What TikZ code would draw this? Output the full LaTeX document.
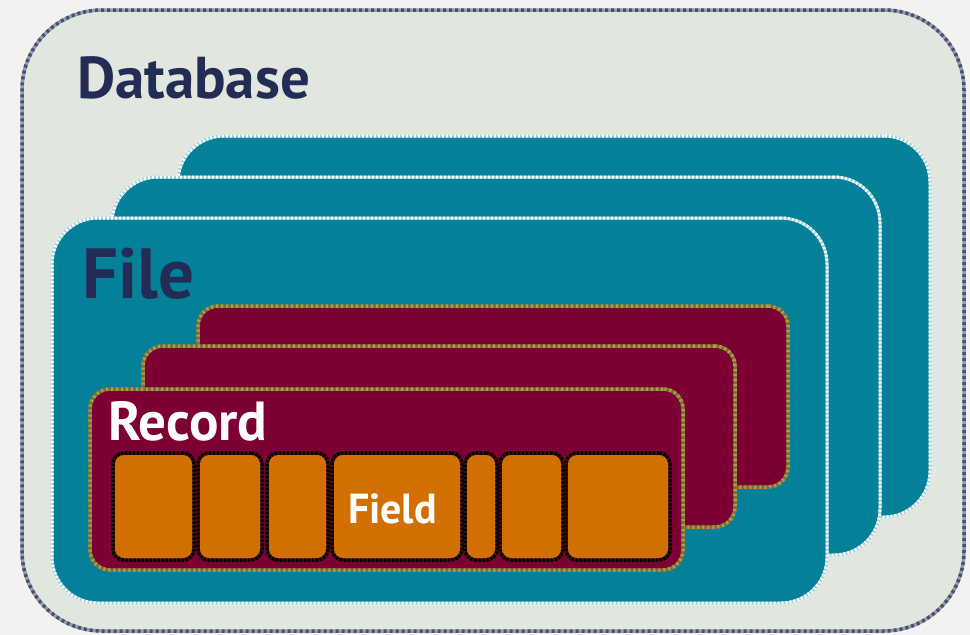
\documentclass[tikz,border=0pt]{standalone}
\usepackage{fontspec}
\setmainfont{PT Sans}
\definecolor{pagebg}{RGB}{242,242,240}
\definecolor{dbfill}{RGB}{225,230,222}
\definecolor{dbline}{RGB}{70,80,112}
\definecolor{dblight}{RGB}{150,156,174}
\definecolor{teal}{RGB}{4,128,153}
\definecolor{tealline}{RGB}{160,212,224}
\definecolor{maroon}{RGB}{124,0,52}
\definecolor{recline}{RGB}{140,104,62}
\definecolor{recdot}{RGB}{156,170,62}
\definecolor{fieldfill}{RGB}{209,112,0}
\definecolor{fieldline}{RGB}{60,14,4}
\definecolor{navy}{RGB}{35,44,85}
\tikzset{
  x=1pt, y=-1pt,
  panel/.style={rectangle, anchor=north west, inner sep=0pt, outer sep=0pt},
  dbbox/.style={panel, fill=dbfill, draw=dblight, line width=3.5pt, rounded corners=80pt,
    postaction={draw=dbline, line width=3.5pt, dash pattern=on 3pt off 3pt, rounded corners=80pt}},
  filebox/.style={panel, fill=teal, draw=tealline, line width=3pt, rounded corners=46pt,
    postaction={draw=white, line width=3pt, dash pattern=on 2pt off 2pt, rounded corners=46pt}},
  recbox/.style={panel, fill=maroon, draw=recline, line width=3.5pt, rounded corners=20pt,
    postaction={draw=recdot, line width=3.5pt, dash pattern=on 2pt off 3pt, rounded corners=20pt}},
  fieldbox/.style={panel, fill=fieldfill, draw=fieldline, line width=3.5pt, rounded corners=11pt,
    postaction={draw=black, line width=3.5pt, dash pattern=on 2pt off 2pt, rounded corners=11pt}},
  label/.style={anchor=base west, inner sep=0pt, outer sep=0pt},
}
% box given by its left, top, right and bottom edges
\newcommand{\boxat}[6]{\node[#1, minimum width={#5-#3}, minimum height={#6-#4}] (#2) at (#3,#4) {};}
\begin{document}
\begin{tikzpicture}
\fill[pagebg] (0,0) rectangle (970,635);
\useasboundingbox (0,0) rectangle (970,635);

% database
\boxat{dbbox}{db}{22}{10}{964}{631}
\node[label, text=navy, font=\bfseries\fontsize{59}{61}\selectfont] (dbtext) at (77,98) {Database};

% stacked files
\boxat{filebox}{file3}{178}{136}{930}{517}
\boxat{filebox}{file2}{112}{177}{880}{555}
\boxat{filebox}{file1}{52}{218}{827}{603}
\node[label, text=navy, font=\bfseries\fontsize{71}{73}\selectfont] (filetext) at (82,298) {File};

% stacked records
\boxat{recbox}{rec3}{198}{306}{788}{487}
\boxat{recbox}{rec2}{143}{346}{735}{527}
\boxat{recbox}{rec1}{90}{389}{683}{570}
\node[label, text=white, font=\bfseries\fontsize{55}{57}\selectfont] (rectext) at (108,440) {Record};

% fields of the front record
\boxat{fieldbox}{f1}{113}{453}{194}{560}
\boxat{fieldbox}{f2}{198}{453}{262}{560}
\boxat{fieldbox}{f3}{267}{453}{328}{560}
\boxat{fieldbox}{f4}{332}{453}{462}{560}
\boxat{fieldbox}{f5}{465}{453}{497}{560}
\boxat{fieldbox}{f6}{500}{453}{563}{560}
\boxat{fieldbox}{f7}{566}{453}{670}{560}
\node[label, text=white, font=\bfseries\fontsize{42}{44}\selectfont] (fieldtext) at (348,523) {Field};
\end{tikzpicture}
\end{document}
